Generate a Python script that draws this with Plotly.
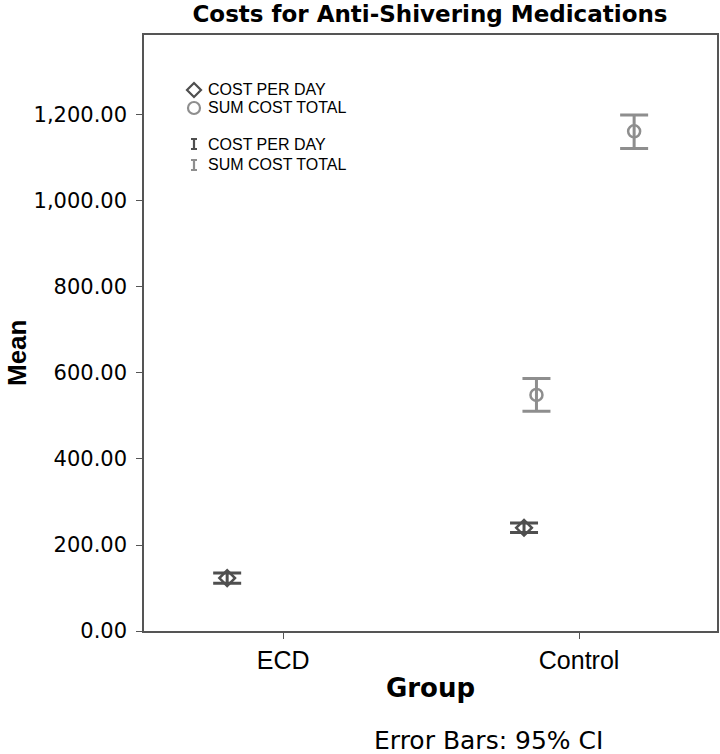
import plotly.graph_objects as go

# ---- data ----
categories = ["ECD", "Control"]
cat_pos = [1, 2]
series_names = ["COST PER DAY", "SUM COST TOTAL"]
cost_x = [0.811, 1.814]
cost_mean = [123, 240]
cost_lo = [111, 229]
cost_hi = [135, 251]
sum_x = [1.856, 2.186]
sum_mean = [549, 1162]
sum_lo = [511, 1122]
sum_hi = [587, 1200]
y_ticks = [0, 200, 400, 600, 800, 1000, 1200]

dark = "#4f4f4f"
light = "#8e8e8e"
frame = "#555555"
LS = "Liberation Sans"
DV = "DejaVu Sans"

W, H = 720, 754
ML, MR, MT, MB = 144, 3, 35, 123
PW, PH = W - ML - MR, H - MT - MB


def px(x):
    return (x - ML) / PW


def py(y):
    return (H - MB - y) / PH


fig = go.Figure()

fig.add_trace(go.Scatter(
    x=cost_x, y=cost_mean, mode="markers", name=series_names[0],
    marker=dict(symbol="diamond-open", size=12, color=dark, line=dict(width=2.5, color=dark)),
    error_y=dict(type="data", symmetric=False,
                 array=[h - m for h, m in zip(cost_hi, cost_mean)],
                 arrayminus=[m - l for l, m in zip(cost_lo, cost_mean)],
                 color=dark, thickness=3, width=14),
))
fig.add_trace(go.Scatter(
    x=sum_x, y=sum_mean, mode="markers", name=series_names[1],
    marker=dict(symbol="circle-open", size=12, color=light, line=dict(width=2.5, color=light)),
    error_y=dict(type="data", symmetric=False,
                 array=[h - m for h, m in zip(sum_hi, sum_mean)],
                 arrayminus=[m - l for l, m in zip(sum_lo, sum_mean)],
                 color=light, thickness=3, width=14),
))

fig.update_layout(
    width=W, height=H,
    margin=dict(l=ML, r=MR, t=MT, b=MB, autoexpand=False),
    paper_bgcolor="white", plot_bgcolor="white",
    font=dict(family=LS, color="black"),
    showlegend=False,
    title=dict(text="<b>Costs for Anti-Shivering Medications</b>",
               x=430 / W, xanchor="center", y=1 - 14 / H, yanchor="middle",
               font=dict(size=23, family=DV)),
)

fig.update_xaxes(
    range=[0.53, 2.466], tickmode="array", tickvals=cat_pos, ticktext=categories,
    ticks="outside", ticklen=6, tickcolor=frame, tickfont=dict(size=25, family=LS),
    showline=True, linecolor=frame, linewidth=1.5, mirror=True,
    showgrid=False, zeroline=False,
    title=dict(text="<b>Group</b>", font=dict(size=26, family=DV), standoff=6),
)
fig.update_yaxes(
    range=[0, 1386], tickmode="array", tickvals=y_ticks,
    ticktext=[f"{v:,.2f}" for v in y_ticks],
    ticks="outside", ticklen=6, tickcolor=frame, tickfont=dict(size=21, family=DV),
    ticklabelstandoff=5,
    showline=True, linecolor=frame, linewidth=1.5, mirror=True,
    showgrid=False, zeroline=False,
)

# y axis title placed like the original (below the plot's middle)
fig.add_annotation(xref="paper", yref="paper", x=px(17), y=py(353),
                   xanchor="center", yanchor="middle", textangle=-90,
                   text="<b>Mean</b>", showarrow=False,
                   font=dict(size=26, family=LS, color="black"))

# ---- hand-made legend (inside plot, top-left) ----
sx = 194
yd = 90
fig.add_shape(type="path", xref="paper", yref="paper",
              path=f"M {px(sx)},{py(yd-7)} L {px(sx+7)},{py(yd)} L {px(sx)},{py(yd+7)} L {px(sx-7)},{py(yd)} Z",
              line=dict(color=dark, width=2.2), fillcolor="rgba(0,0,0,0)")
yc = 108
fig.add_shape(type="circle", xref="paper", yref="paper",
              x0=px(sx - 6), x1=px(sx + 6), y0=py(yc + 6), y1=py(yc - 6),
              line=dict(color=light, width=2.2), fillcolor="rgba(0,0,0,0)")
for yi, col in [(144, dark), (165, light)]:
    fig.add_shape(type="path", xref="paper", yref="paper",
                  path=(f"M {px(sx-3)},{py(yi-5)} L {px(sx+3)},{py(yi-5)} "
                        f"M {px(sx)},{py(yi-5)} L {px(sx)},{py(yi+5)} "
                        f"M {px(sx-3)},{py(yi+5)} L {px(sx+3)},{py(yi+5)}"),
                  line=dict(color=col, width=2.2))

for (ty, nm) in [(yd, series_names[0]), (yc, series_names[1]),
                 (144, series_names[0]), (165, series_names[1])]:
    fig.add_annotation(xref="paper", yref="paper", x=px(206), y=py(ty),
                       text=nm, showarrow=False, xanchor="left", yanchor="middle",
                       font=dict(size=16, family=LS, color="black"))

fig.add_annotation(xref="paper", yref="paper", x=px(488), y=py(740),
                   xanchor="center", yanchor="middle",
                   text="Error Bars: 95% CI", showarrow=False,
                   font=dict(size=25, family=DV, color="black"))

fig.write_html("out.html", config={"displayModeBar": False},
               post_script="document.body.style.margin='0';document.body.style.overflow='hidden';")
